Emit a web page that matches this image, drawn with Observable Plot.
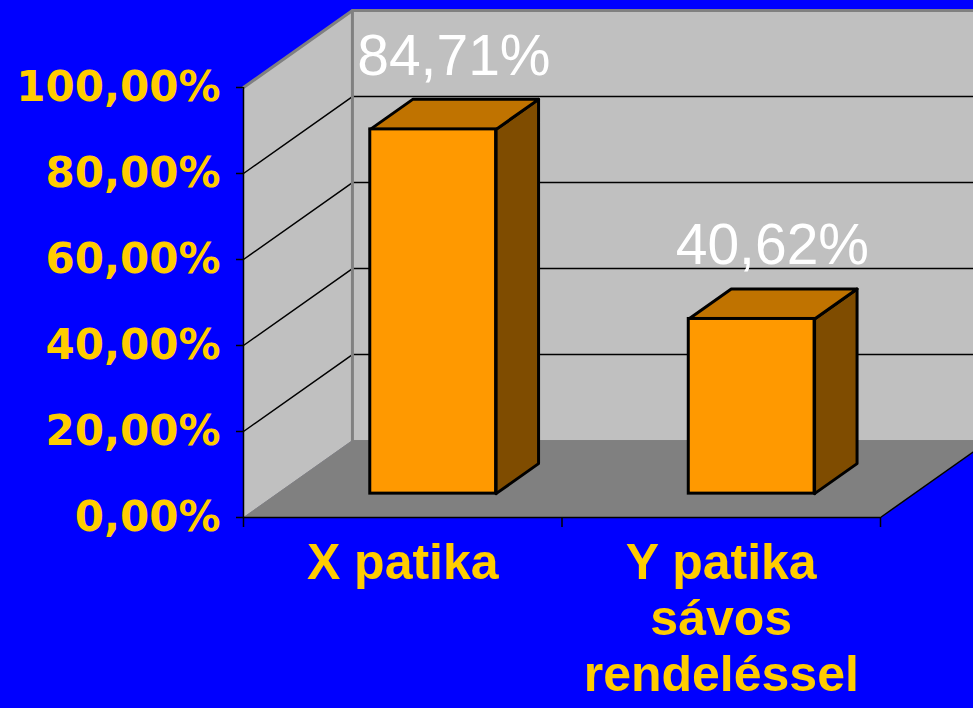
<!DOCTYPE html>
<html><head><meta charset="utf-8">
<script src="https://cdn.jsdelivr.net/npm/d3@7"></script>
<script src="https://cdn.jsdelivr.net/npm/@observablehq/plot@0.6"></script>
<style>html,body{margin:0;padding:0;background:#0000FF;overflow:hidden}</style>
</head><body><div id="chart"></div>
<script>
// ---- data ----
const categories = ["X patika", "Y patika\nsávos\nrendeléssel"];
const values = [84.71, 40.62];
const valueLabels = ["84,71%", "40,62%"];
const yTicks = [0, 20, 40, 60, 80, 100];
const yTickLabels = ["0,00%", "20,00%", "40,00%", "60,00%", "80,00%", "100,00%"];
const gridValues = [20, 40, 60, 80];

// ---- 3D projection helpers (in data units) ----
const DX = 0.342, DY = 17.9;          // depth offset: x in category units, y in %
const GAP = 0.292, BW = 0.395;        // bar placement inside each category band
const D0 = 0.31, D1 = 0.70;           // bar depth range
const N = categories.length;
const P = (x, y, d, id) => ({x: x + d * DX, y: y + d * DY, id});
const poly = (id, pts) => [...pts, pts[0]].map(p => ({...p, id}));

const bars = values.map((v, i) => ({i, v, x0: i + GAP, x1: i + GAP + BW}));

const leftWall = poly("lw", [P(0, 0, 0), P(0, 100, 0), P(0, 100, 1), P(0, 0, 1)]);
const backWall = poly("bw", [P(0, 0, 1), P(0, 100, 1), P(N, 100, 1), P(N, 0, 1)]);
const floor = poly("fl", [P(0, 0, 0), P(N, 0, 0), P(N, 0, 1), P(0, 0, 1)]);

const backGrid = gridValues.flatMap(v => [P(0, v, 1, "g" + v), P(N, v, 1, "g" + v)]);
const sideGrid = gridValues.flatMap(v => [P(0, v, 0, "s" + v), P(0, v, 1, "s" + v)]);
const wallTop = [P(0, 100, 0, "t"), P(0, 100, 1, "t"), P(N, 100, 1, "t")];
const wallEdge = [P(0, 0, 1, "e"), P(0, 100, 1, "e")];
const floorEdge = [P(N, 0, 0, "f"), P(N, 0, 1, "f")];

const sides = bars.flatMap(b => poly("side" + b.i, [P(b.x1, 0, D0), P(b.x1, 0, D1), P(b.x1, b.v, D1), P(b.x1, b.v, D0)]));
const tops = bars.flatMap(b => poly("top" + b.i, [P(b.x0, b.v, D0), P(b.x1, b.v, D0), P(b.x1, b.v, D1), P(b.x0, b.v, D1)]));

const xy = {x: "x", y: "y", z: "id"};

const chart = Plot.plot({
  width: 973,
  height: 708,
  marginLeft: 243,
  marginRight: 93,
  marginTop: 87,
  marginBottom: 191,
  style: {background: "#0000FF", overflow: "visible"},
  x: {domain: [0, N], axis: null},
  y: {domain: [0, 100], axis: null},
  marks: [
    Plot.line(leftWall, {...xy, fill: "#C0C0C0", stroke: "#C0C0C0", strokeWidth: 1}),
    Plot.line(backWall, {...xy, fill: "#C0C0C0", stroke: "#C0C0C0", strokeWidth: 1}),
    Plot.line(floor, {...xy, fill: "#808080", stroke: "#808080", strokeWidth: 1}),
    Plot.line(backGrid, {...xy, stroke: "black", strokeWidth: 1.5}),
    Plot.line(sideGrid, {...xy, stroke: "black", strokeWidth: 1.5}),
    Plot.line(wallTop, {...xy, stroke: "#808080", strokeWidth: 3}),
    Plot.line(wallEdge, {...xy, stroke: "#808080", strokeWidth: 3}),
    Plot.line(floorEdge, {...xy, stroke: "black", strokeWidth: 1.5}),
    Plot.ruleX([0], {stroke: "black", strokeWidth: 1.5}),
    Plot.ruleY([0], {stroke: "black", strokeWidth: 1.5}),
    Plot.axisY({
      ticks: yTicks, tickSize: 7, tickPadding: 16,
      tickFormat: d => yTickLabels[yTicks.indexOf(d)],
      stroke: "black", fill: "#FFCC00", strokeWidth: 1.5,
      fontSize: 42, fontWeight: "bold", fontFamily: "DejaVu Sans", label: null
    }),
    Plot.axisX({
      ticks: d3.range(N + 1), tickSize: 10, tickFormat: () => "",
      stroke: "black", strokeWidth: 1.5, label: null
    }),
    Plot.line(sides, {...xy, fill: "#7F4C00", stroke: "black", strokeWidth: 3, strokeLinejoin: "round"}),
    Plot.line(tops, {...xy, fill: "#C07300", stroke: "black", strokeWidth: 3, strokeLinejoin: "round"}),
    Plot.rect(bars, {
      x1: b => b.x0 + D0 * DX, x2: b => b.x1 + D0 * DX,
      y1: () => D0 * DY, y2: b => b.v + D0 * DY,
      fill: "#FF9900", stroke: "black", strokeWidth: 3
    }),
    Plot.text(bars, {
      x: b => b.x0 + BW / 2 + 0.5 * DX, y: b => b.v + 0.5 * DY,
      text: b => valueLabels[b.i], dy: -40, lineAnchor: "bottom",
      fill: "white", fontSize: 57, fontFamily: "Liberation Sans, Arial, sans-serif"
    }),
    Plot.text(categories, {
      x: (d, i) => i + 0.5, y: () => 0, text: d => d,
      dy: 22, lineAnchor: "top", lineHeight: 1.12,
      fill: "#FFCC00", fontSize: 50, fontWeight: "bold",
      fontFamily: "Liberation Sans, Arial, sans-serif"
    })
  ]
});
document.getElementById("chart").append(chart);
</script>
</body></html>
